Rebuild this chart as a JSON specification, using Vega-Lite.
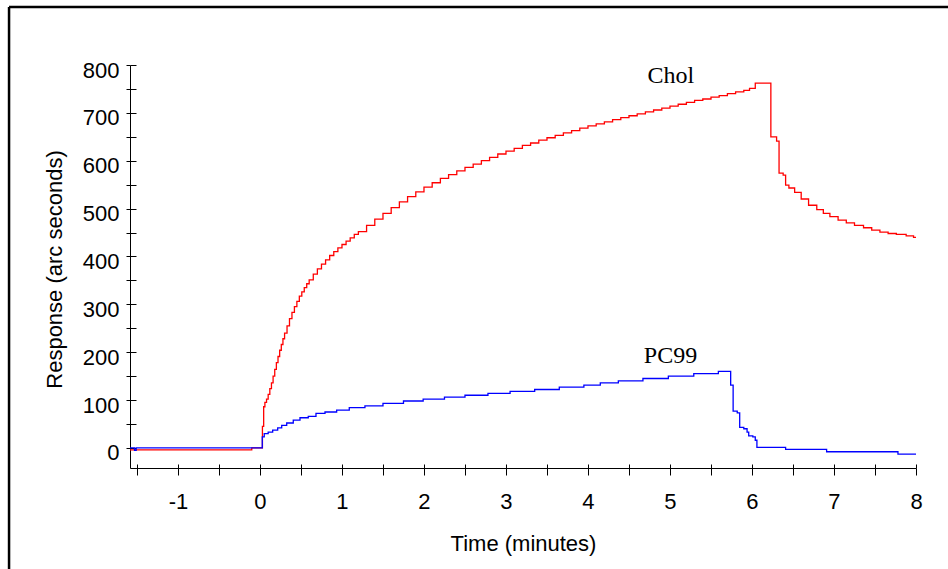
{
  "$schema": "https://vega.github.io/schema/vega-lite/v6.json",
  "width": 786,
  "height": 403,
  "autosize": {"type": "none"},
  "padding": {"left": 130, "top": 65, "right": 32, "bottom": 101},
  "background": "white",
  "config": {
    "view": {"stroke": null},
    "axis": {
      "grid": false,
      "labelFont": "Liberation Sans",
      "titleFont": "Liberation Sans",
      "labelColor": "black",
      "titleColor": "black",
      "domainColor": "black",
      "tickColor": "black",
      "labelFontSize": 22,
      "titleFontSize": 22,
      "titleFontWeight": "normal",
      "domainWidth": 1,
      "tickWidth": 1
    }
  },
  "datasets": {
    "curves": [
      {"series": "Chol", "t": -1.585, "v": -4},
      {"series": "Chol", "t": -0.1, "v": 0},
      {"series": "Chol", "t": 0.03, "v": 45},
      {"series": "Chol", "t": 0.045, "v": 86},
      {"series": "Chol", "t": 0.06, "v": 95},
      {"series": "Chol", "t": 0.08, "v": 102},
      {"series": "Chol", "t": 0.1, "v": 112},
      {"series": "Chol", "t": 0.12, "v": 124},
      {"series": "Chol", "t": 0.14, "v": 136},
      {"series": "Chol", "t": 0.16, "v": 150},
      {"series": "Chol", "t": 0.18, "v": 164},
      {"series": "Chol", "t": 0.2, "v": 178},
      {"series": "Chol", "t": 0.22, "v": 191},
      {"series": "Chol", "t": 0.24, "v": 204},
      {"series": "Chol", "t": 0.26, "v": 216},
      {"series": "Chol", "t": 0.28, "v": 228},
      {"series": "Chol", "t": 0.3, "v": 240},
      {"series": "Chol", "t": 0.33, "v": 255},
      {"series": "Chol", "t": 0.36, "v": 270},
      {"series": "Chol", "t": 0.39, "v": 283},
      {"series": "Chol", "t": 0.42, "v": 295},
      {"series": "Chol", "t": 0.45, "v": 306},
      {"series": "Chol", "t": 0.48, "v": 317},
      {"series": "Chol", "t": 0.51, "v": 326},
      {"series": "Chol", "t": 0.54, "v": 335},
      {"series": "Chol", "t": 0.57, "v": 343},
      {"series": "Chol", "t": 0.6, "v": 351},
      {"series": "Chol", "t": 0.65, "v": 363},
      {"series": "Chol", "t": 0.7, "v": 374},
      {"series": "Chol", "t": 0.75, "v": 384},
      {"series": "Chol", "t": 0.8, "v": 393},
      {"series": "Chol", "t": 0.85, "v": 402},
      {"series": "Chol", "t": 0.9, "v": 410},
      {"series": "Chol", "t": 0.95, "v": 418},
      {"series": "Chol", "t": 1.0, "v": 425},
      {"series": "Chol", "t": 1.05, "v": 432},
      {"series": "Chol", "t": 1.1, "v": 439},
      {"series": "Chol", "t": 1.15, "v": 446},
      {"series": "Chol", "t": 1.2, "v": 452},
      {"series": "Chol", "t": 1.3, "v": 465},
      {"series": "Chol", "t": 1.4, "v": 478},
      {"series": "Chol", "t": 1.5, "v": 490},
      {"series": "Chol", "t": 1.6, "v": 502},
      {"series": "Chol", "t": 1.7, "v": 514},
      {"series": "Chol", "t": 1.8, "v": 525},
      {"series": "Chol", "t": 1.9, "v": 535},
      {"series": "Chol", "t": 2.0, "v": 545},
      {"series": "Chol", "t": 2.1, "v": 554},
      {"series": "Chol", "t": 2.2, "v": 563},
      {"series": "Chol", "t": 2.3, "v": 571},
      {"series": "Chol", "t": 2.4, "v": 579},
      {"series": "Chol", "t": 2.5, "v": 586},
      {"series": "Chol", "t": 2.6, "v": 593},
      {"series": "Chol", "t": 2.7, "v": 600},
      {"series": "Chol", "t": 2.8, "v": 607},
      {"series": "Chol", "t": 2.9, "v": 614},
      {"series": "Chol", "t": 3.0, "v": 620},
      {"series": "Chol", "t": 3.1, "v": 626},
      {"series": "Chol", "t": 3.2, "v": 632},
      {"series": "Chol", "t": 3.3, "v": 637},
      {"series": "Chol", "t": 3.4, "v": 643},
      {"series": "Chol", "t": 3.5, "v": 648},
      {"series": "Chol", "t": 3.6, "v": 653},
      {"series": "Chol", "t": 3.7, "v": 658},
      {"series": "Chol", "t": 3.8, "v": 663},
      {"series": "Chol", "t": 3.9, "v": 668},
      {"series": "Chol", "t": 4.0, "v": 673},
      {"series": "Chol", "t": 4.1, "v": 677},
      {"series": "Chol", "t": 4.2, "v": 681},
      {"series": "Chol", "t": 4.3, "v": 686},
      {"series": "Chol", "t": 4.4, "v": 690},
      {"series": "Chol", "t": 4.5, "v": 694},
      {"series": "Chol", "t": 4.6, "v": 698},
      {"series": "Chol", "t": 4.7, "v": 702},
      {"series": "Chol", "t": 4.8, "v": 706},
      {"series": "Chol", "t": 4.9, "v": 710},
      {"series": "Chol", "t": 5.0, "v": 714},
      {"series": "Chol", "t": 5.1, "v": 718},
      {"series": "Chol", "t": 5.2, "v": 722},
      {"series": "Chol", "t": 5.3, "v": 726},
      {"series": "Chol", "t": 5.4, "v": 729},
      {"series": "Chol", "t": 5.5, "v": 733},
      {"series": "Chol", "t": 5.6, "v": 736},
      {"series": "Chol", "t": 5.7, "v": 740},
      {"series": "Chol", "t": 5.8, "v": 744},
      {"series": "Chol", "t": 5.9, "v": 747},
      {"series": "Chol", "t": 5.97, "v": 751},
      {"series": "Chol", "t": 6.04, "v": 762},
      {"series": "Chol", "t": 6.23, "v": 650},
      {"series": "Chol", "t": 6.3, "v": 641},
      {"series": "Chol", "t": 6.33, "v": 574},
      {"series": "Chol", "t": 6.38, "v": 570},
      {"series": "Chol", "t": 6.41, "v": 549},
      {"series": "Chol", "t": 6.45, "v": 543},
      {"series": "Chol", "t": 6.52, "v": 534},
      {"series": "Chol", "t": 6.6, "v": 520},
      {"series": "Chol", "t": 6.69, "v": 507},
      {"series": "Chol", "t": 6.79, "v": 498},
      {"series": "Chol", "t": 6.87, "v": 490},
      {"series": "Chol", "t": 6.95, "v": 483},
      {"series": "Chol", "t": 7.05, "v": 476},
      {"series": "Chol", "t": 7.15, "v": 470},
      {"series": "Chol", "t": 7.25, "v": 465},
      {"series": "Chol", "t": 7.36, "v": 460},
      {"series": "Chol", "t": 7.46, "v": 455},
      {"series": "Chol", "t": 7.56, "v": 451},
      {"series": "Chol", "t": 7.66, "v": 448},
      {"series": "Chol", "t": 7.76, "v": 446},
      {"series": "Chol", "t": 7.88, "v": 443},
      {"series": "Chol", "t": 7.97, "v": 440},
      {"series": "Chol", "t": 8.0, "v": 440},
      {"series": "PC99", "t": -1.585, "v": 0},
      {"series": "PC99", "t": -1.53, "v": -5},
      {"series": "PC99", "t": -1.51, "v": 0},
      {"series": "PC99", "t": 0.028, "v": 23},
      {"series": "PC99", "t": 0.052, "v": 30},
      {"series": "PC99", "t": 0.1, "v": 33},
      {"series": "PC99", "t": 0.155, "v": 37},
      {"series": "PC99", "t": 0.216, "v": 42},
      {"series": "PC99", "t": 0.265, "v": 47},
      {"series": "PC99", "t": 0.326, "v": 52},
      {"series": "PC99", "t": 0.406, "v": 58},
      {"series": "PC99", "t": 0.488, "v": 63},
      {"series": "PC99", "t": 0.589, "v": 66},
      {"series": "PC99", "t": 0.683, "v": 72},
      {"series": "PC99", "t": 0.793, "v": 75},
      {"series": "PC99", "t": 0.935, "v": 79},
      {"series": "PC99", "t": 1.089, "v": 84},
      {"series": "PC99", "t": 1.28, "v": 88},
      {"series": "PC99", "t": 1.5, "v": 93},
      {"series": "PC99", "t": 1.75, "v": 98},
      {"series": "PC99", "t": 1.99, "v": 102},
      {"series": "PC99", "t": 2.25, "v": 106},
      {"series": "PC99", "t": 2.5, "v": 110},
      {"series": "PC99", "t": 2.78, "v": 114},
      {"series": "PC99", "t": 3.05, "v": 118},
      {"series": "PC99", "t": 3.35, "v": 122},
      {"series": "PC99", "t": 3.65, "v": 127},
      {"series": "PC99", "t": 3.95, "v": 131},
      {"series": "PC99", "t": 4.15, "v": 136},
      {"series": "PC99", "t": 4.37, "v": 140},
      {"series": "PC99", "t": 4.67, "v": 145},
      {"series": "PC99", "t": 4.98, "v": 150},
      {"series": "PC99", "t": 5.29, "v": 155},
      {"series": "PC99", "t": 5.59, "v": 160},
      {"series": "PC99", "t": 5.74, "v": 131},
      {"series": "PC99", "t": 5.77, "v": 77},
      {"series": "PC99", "t": 5.82, "v": 73},
      {"series": "PC99", "t": 5.85, "v": 43},
      {"series": "PC99", "t": 5.9, "v": 40},
      {"series": "PC99", "t": 5.94, "v": 33},
      {"series": "PC99", "t": 5.96, "v": 25},
      {"series": "PC99", "t": 6.01, "v": 23},
      {"series": "PC99", "t": 6.04, "v": 16},
      {"series": "PC99", "t": 6.06, "v": 1},
      {"series": "PC99", "t": 6.41, "v": -3},
      {"series": "PC99", "t": 6.91, "v": -8},
      {"series": "PC99", "t": 7.78, "v": -13},
      {"series": "PC99", "t": 8.0, "v": -13}
    ],
    "labels": [
      {"t": 5.01, "v": 762, "label": "Chol"},
      {"t": 5.006, "v": 177, "label": "PC99"}
    ]
  },
  "layer": [
    {
      "data": {"values": [{}]},
      "mark": {"type": "rule", "clip": false, "color": "black", "strokeWidth": 2.5},
      "encoding": {
        "x": {"datum": -3.06, "type": "quantitative", "scale": {"domain": [-1.585, 8], "nice": false, "zero": false}, "axis": null},
        "y": {"datum": 921, "type": "quantitative", "scale": {"domain": [-42, 800], "nice": false, "zero": false}, "axis": null},
        "y2": {"datum": -300}
      }
    },
    {
      "data": {"values": [{}]},
      "mark": {"type": "rule", "clip": false, "color": "black", "strokeWidth": 2.5},
      "encoding": {
        "x": {"datum": -3.06, "type": "quantitative", "scale": {"domain": [-1.585, 8], "nice": false, "zero": false}, "axis": null},
        "x2": {"datum": 8.7},
        "y": {"datum": 921, "type": "quantitative", "scale": {"domain": [-42, 800], "nice": false, "zero": false}, "axis": null}
      }
    },
    {
      "data": {"name": "curves"},
      "mark": {"type": "line", "interpolate": "step-after", "strokeWidth": 1.3},
      "encoding": {
        "x": {
          "field": "t", "type": "quantitative",
          "scale": {"domain": [-1.585, 8], "nice": false, "zero": false},
          "axis": {
            "orient": "bottom",
            "title": "Time (minutes)",
            "values": [-1.5, -1, -0.5, 0, 0.5, 1, 1.5, 2, 2.5, 3, 3.5, 4, 4.5, 5, 5.5, 6, 6.5, 7, 7.5, 8],
            "labelExpr": "datum.value % 1 === 0 ? '' + datum.value : ''",
            "tickSize": 7,
            "labelPadding": 16,
            "labelBaseline": "top",
            "labelFlush": false,
            "labelOverlap": false,
            "titleY": 82,
            "titleBaseline": "alphabetic"
          }
        },
        "y": {
          "field": "v", "type": "quantitative",
          "scale": {"domain": [-42, 800], "nice": false, "zero": false},
          "axis": {
            "orient": "left",
            "title": "Response (arc seconds)",
            "values": [0, 50, 100, 150, 200, 250, 300, 350, 400, 450, 500, 550, 600, 650, 700, 750, 800],
            "labelExpr": "datum.value % 100 === 0 ? '' + datum.value : ''",
            "tickSize": 4,
            "labelPadding": 7,
            "labelBaseline": "alphabetic",
            "labelOffset": 12,
            "labelFlush": false,
            "labelOverlap": false,
            "titleAngle": -90,
            "titleX": -69,
            "titleY": 204,
            "titleAlign": "center",
            "titleBaseline": "alphabetic"
          }
        },
        "color": {
          "field": "series", "type": "nominal",
          "scale": {"domain": ["Chol", "PC99"], "range": ["#ff0000", "#0000ff"]},
          "legend": null
        }
      }
    },
    {
      "data": {"name": "labels"},
      "mark": {"type": "text", "font": "Liberation Serif", "fontSize": 24, "baseline": "alphabetic", "align": "center", "color": "black"},
      "encoding": {
        "x": {
          "field": "t", "type": "quantitative",
          "scale": {"domain": [-1.585, 8], "nice": false, "zero": false},
          "axis": {
            "orient": "bottom", "title": null, "labels": false, "domain": false,
            "values": [-1.5, -1, -0.5, 0, 0.5, 1, 1.5, 2, 2.5, 3, 3.5, 4, 4.5, 5, 5.5, 6, 6.5, 7, 7.5, 8],
            "tickSize": -4
          }
        },
        "y": {
          "field": "v", "type": "quantitative",
          "scale": {"domain": [-42, 800], "nice": false, "zero": false},
          "axis": {
            "orient": "left", "title": null, "labels": false, "domain": false,
            "values": [0, 50, 100, 150, 200, 250, 300, 350, 400, 450, 500, 550, 600, 650, 700, 750, 800],
            "tickSize": -6
          }
        },
        "text": {"field": "label"}
      }
    }
  ],
  "resolve": {"axis": {"x": "independent", "y": "independent"}}
}
